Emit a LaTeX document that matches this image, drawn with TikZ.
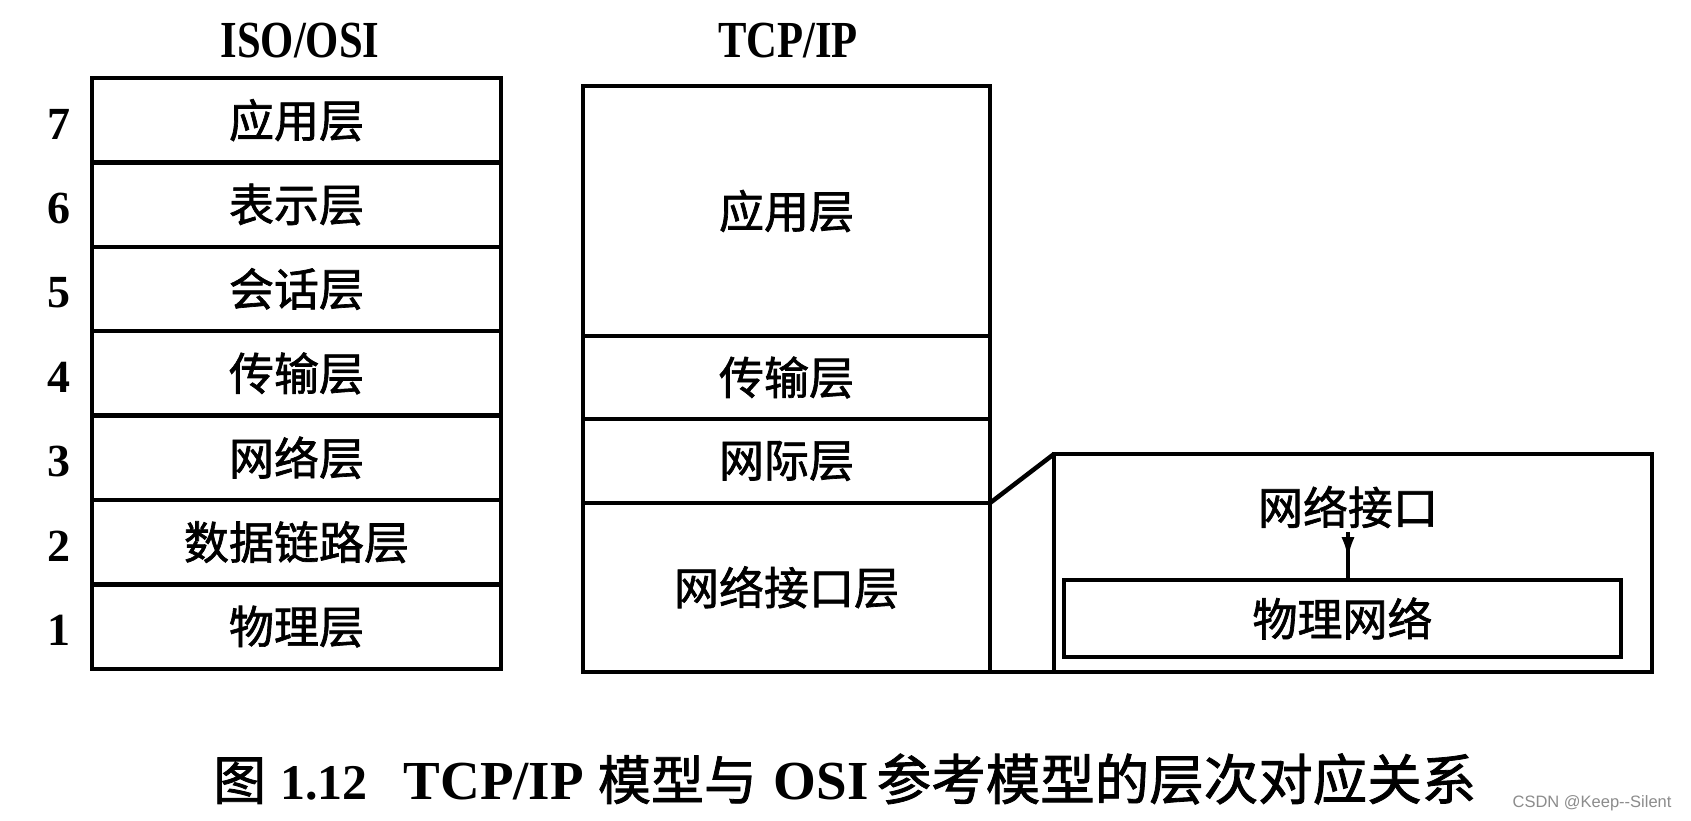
\documentclass[tikz,border=0pt]{standalone}
\usepackage{fontspec}
\setmainfont{Liberation Serif}
\newfontfamily\cjk[FakeBold=1.5]{Noto Sans CJK SC}
\newfontfamily\wmfont{Liberation Sans}
\usetikzlibrary{arrows.meta,decorations.markings}

\tikzset{
	layer/.style={draw, line width=4.5pt, inner sep=0pt, outer sep=0pt, font=\cjk\fontsize{45}{50}\selectfont},
	osilayer/.style={layer, minimum width=409pt, minimum height=84.4pt},
	tcplayer/.style={layer, minimum width=407pt},
	lnum/.style={font=\bfseries\fontsize{46}{50}\selectfont},
	title/.style={font=\bfseries\fontsize{52}{60}\selectfont},
	midarrow/.style={postaction={decorate}, decoration={markings, mark=at position 0.6 with {\arrow{Latex[length=22pt,width=13pt]}}}},
}
\newcommand{\narrow}[1]{\scalebox{0.82}[1]{#1}}
\newcommand{\lat}[2][55]{{\rmfamily\bfseries\fontsize{#1}{60}\selectfont #2}}

\begin{document}
\begin{tikzpicture}[x=1pt,y=-1pt]
	\useasboundingbox[fill=white] (0,0) rectangle (1691,821);

	\node[title] (osititle) at (300,41) {\narrow{ISO/OSI}};
	\node[title] (tcptitle) at (788,41) {\narrow{TCP/IP}};

	\foreach \n/\name [count=\i] in {7/应用层, 6/表示层, 5/会话层, 4/传输层, 3/网络层, 2/数据链路层, 1/物理层} {
		\node[osilayer] (osi\n) at (296.5,35.8+84.4*\i) {\name};
		\node[lnum] (num\n) at (59,39.8+84.4*\i) {\n};
	}

	\node[tcplayer, minimum height=250pt] (tcpapp) at (786.5,211) {应用层};
	\node[tcplayer, minimum height=83pt] (tcptrans) at (786.5,377.5) {传输层};
	\node[tcplayer, minimum height=84pt] (tcpinet) at (786.5,461) {网际层};
	\node[tcplayer, minimum height=169pt] (tcpnet) at (786.5,587.5) {网络接口层};

	\node[layer, minimum width=598pt, minimum height=218pt] (detail) at (1353,563) {};
	\node[layer, minimum width=557pt, minimum height=77pt] (phys) at (1342.5,618.5) {物理网络};
	\node[layer, draw=none] (iface) at (1348,507) {网络接口};

	\draw[line width=4.5pt] (tcpnet.north east) -- (detail.north west);
	\draw[line width=4.5pt] (tcpnet.south east) -- (detail.south west);
	\draw[line width=4pt, midarrow, shorten <=4pt] (iface.south) -- (iface.south |- phys.north);

	\node[font=\cjk\fontsize{53}{60}\selectfont, inner sep=0pt, anchor=west] (caption) at (213,779)
		{图\hspace{14pt}\lat[50]{1.12}\hspace{36pt}\lat{TCP/IP}\hspace{14pt}模型与\hspace{17pt}\lat{OSI}\hspace{8pt}{\fontsize{54.5}{60}\selectfont 参考模型的层次对应关系}};

	\node[font=\wmfont\fontsize{16.5}{20}\selectfont, text=black!45, anchor=east] (mark) at (1675,803) {CSDN @Keep-{}-Silent};
\end{tikzpicture}
\end{document}
